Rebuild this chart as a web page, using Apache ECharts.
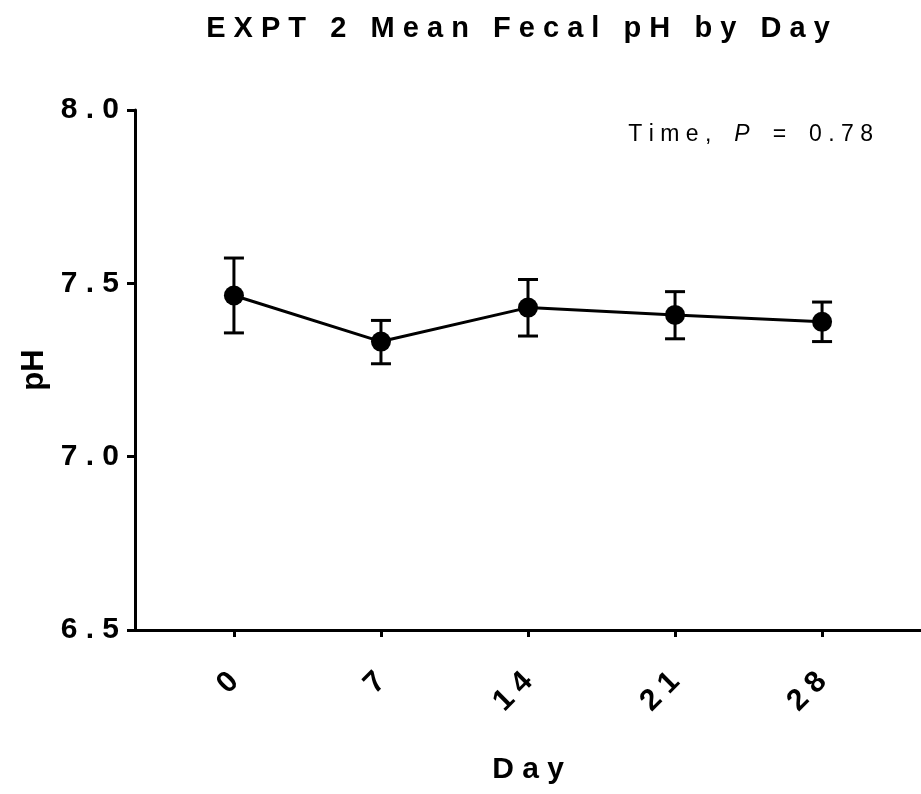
<!DOCTYPE html>
<html>
<head>
<meta charset="utf-8">
<script src="https://cdn.jsdelivr.net/npm/echarts@6/dist/echarts.min.js"></script>
<style>
  html, body { margin: 0; padding: 0; background: #fff; }
  #chart { width: 921px; height: 794px; }
</style>
</head>
<body>
<div id="chart"></div>
<script>
// Day of sampling and mean fecal pH with its error bar (lower / upper bound)
const days = [0, 7, 14, 21, 28];
const meanPH = [7.465, 7.332, 7.430, 7.409, 7.389];
const lowerPH = [7.357, 7.268, 7.348, 7.340, 7.332];
const upperPH = [7.573, 7.393, 7.511, 7.476, 7.446];
const yTicks = [6.5, 7.0, 7.5, 8.0];

const titleText = 'EXPT 2 Mean Fecal pH by Day';
const xName = 'Day';
const yName = 'pH';

// Spread letters apart: gap between letters, wider gap between words
function spread(str, gap, wordGap) {
  return str.split(' ').map(w => w.split('').join(gap)).join(wordGap);
}

const FONT = '"Liberation Sans", Arial, sans-serif';
const EN = '\u2002';

const chart = echarts.init(document.getElementById('chart'), null, { renderer: 'canvas' });

const option = {
  backgroundColor: '#ffffff',
  animation: false,
  grid: { left: 135, right: 0, top: 110, bottom: 164, containLabel: false },
  xAxis: {
    type: 'value',
    min: -4.71,
    max: 32.71,
    name: spread(xName, ' ', '   '),
    nameLocation: 'middle',
    nameGap: 125,
    nameTextStyle: { fontFamily: FONT, fontWeight: 'bold', fontSize: 30, color: '#000' },
    axisLine: { show: true, onZero: false, lineStyle: { color: '#000', width: 3 } },
    axisTick: { show: true, length: 7, lineStyle: { color: '#000', width: 3 }, customValues: days },
    axisLabel: {
      show: true,
      customValues: days,
      rotate: 45,
      margin: 47,
      fontFamily: FONT, fontWeight: 'bold', fontSize: 30, color: '#000',
      formatter: v => spread(String(v), ' ', ' ')
    },
    splitLine: { show: false }
  },
  yAxis: {
    type: 'value',
    min: 6.5,
    max: 8.0,
    interval: 0.5,
    name: yName,
    nameLocation: 'middle',
    nameGap: 84,
    nameTextStyle: { fontFamily: FONT, fontWeight: 'bold', fontSize: 31, color: '#000' },
    axisLine: { show: true, onZero: false, lineStyle: { color: '#000', width: 3 } },
    axisTick: { show: true, length: 8, lineStyle: { color: '#000', width: 3 } },
    axisLabel: {
      margin: 16,
      customValues: yTicks,
      fontFamily: FONT, fontWeight: 'bold', fontSize: 30, color: '#000',
      formatter: v => spread(v.toFixed(1), ' ', ' ')
    },
    splitLine: { show: false }
  },
  graphic: [
    {
      type: 'text',
      style: {
        x: 518, y: 29,
        text: spread(titleText, ' ', '   '),
        align: 'center', verticalAlign: 'middle',
        font: 'bold 29px ' + FONT,
        fill: '#000'
      }
    },
    {
      type: 'text',
      style: {
        x: 873, y: 135,
        text: '{n|' + spread('Time,', ' ', ' ') + EN + EN + '}{i|P}{n|' + EN + EN + '=' + EN + EN + spread('0.78', ' ', ' ') + '}',
        align: 'right', verticalAlign: 'middle',
        fill: '#000',
        rich: {
          n: { fontFamily: FONT, fontSize: 23, fill: '#000' },
          i: { fontFamily: FONT, fontSize: 23, fontStyle: 'italic', fill: '#000' }
        }
      }
    }
  ],
  series: [
    {
      // error bars with caps
      type: 'custom',
      data: days.map((d, i) => [d, lowerPH[i], upperPH[i]]),
      encode: { x: 0, y: [1, 2] },
      z: 2,
      renderItem: function (params, api) {
        const x = api.value(0);
        const lo = api.coord([x, api.value(1)]);
        const hi = api.coord([x, api.value(2)]);
        const half = 10;
        const st = { stroke: '#000', lineWidth: 3 };
        return {
          type: 'group',
          children: [
            { type: 'line', shape: { x1: lo[0], y1: lo[1], x2: hi[0], y2: hi[1] }, style: st },
            { type: 'line', shape: { x1: hi[0] - half, y1: hi[1], x2: hi[0] + half, y2: hi[1] }, style: st },
            { type: 'line', shape: { x1: lo[0] - half, y1: lo[1], x2: lo[0] + half, y2: lo[1] }, style: st }
          ]
        };
      }
    },
    {
      type: 'line',
      data: days.map((d, i) => [d, meanPH[i]]),
      symbol: 'circle',
      symbolSize: 20,
      z: 3,
      lineStyle: { color: '#000', width: 3 },
      itemStyle: { color: '#000' }
    }
  ]
};

chart.setOption(option);
</script>
</body>
</html>
